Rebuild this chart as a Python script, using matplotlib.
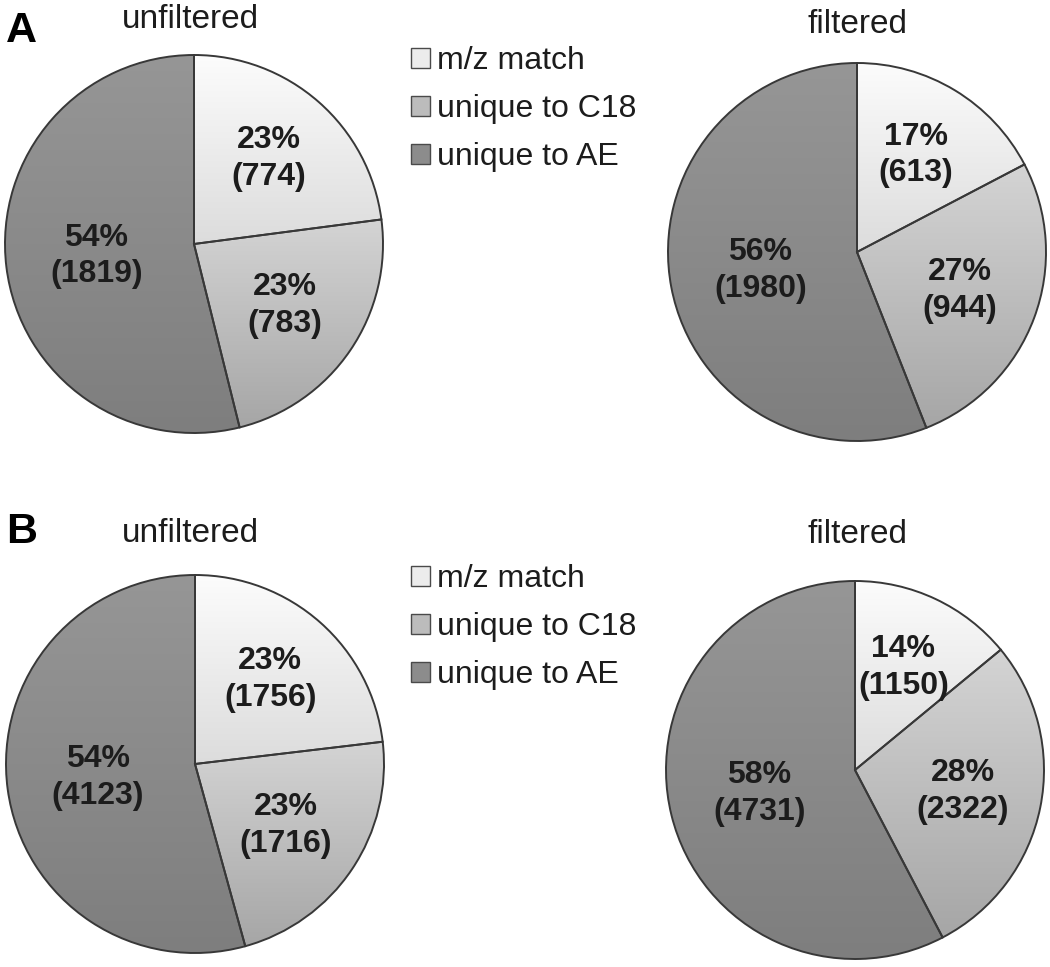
import numpy as np
import matplotlib
matplotlib.use("Agg")
import matplotlib.pyplot as plt
from matplotlib.colors import LinearSegmentedColormap
from matplotlib.patches import Patch

plt.rcParams['font.family'] = ['Liberation Sans', 'DejaVu Sans']

# data
categories = ["m/z match", "unique to C18", "unique to AE"]
a_unfiltered = [774, 783, 1819]
a_filtered = [613, 944, 1980]
b_unfiltered = [1756, 1716, 4123]
b_filtered = [1150, 2322, 4731]

W, H = 1050, 967
R = 189  # pie radius in pixels
fig = plt.figure(figsize=(W / 100, H / 100), dpi=100)

top_colors = ["#fcfcfc", "#d4d4d4", "#969696"]
bottom_colors = ["#dcdcdc", "#a6a6a6", "#7e7e7e"]
legend_colors = ["#ececec", "#bcbcbc", "#8c8c8c"]
label_r = [0.60, 0.58, 0.52]
edge = "#383838"
txt = "#1c1c1c"


def fx(x):
    return x / W


def fy(y):
    return 1 - y / H


def pie_at(cx, cy, values):
    pad = 4
    ax = fig.add_axes([fx(cx - R - pad), fy(cy + R + pad),
                       (2 * R + 2 * pad) / W, (2 * R + 2 * pad) / H])
    total = sum(values)

    def fmt(pct):
        return f"{pct:.0f}%\n({int(round(pct * total / 100))})"

    wedges, _, autotexts = ax.pie(values, startangle=90, counterclock=False,
                                  radius=1, autopct=fmt,
                                  wedgeprops=dict(edgecolor=edge, linewidth=1.4),
                                  textprops=dict(fontsize=23, fontweight='bold',
                                                 color=txt))
    for i, w in enumerate(wedges):
        w.set_facecolor('none')
        ext = w.get_path().get_extents()
        cmap = LinearSegmentedColormap.from_list(f"g{i}", [top_colors[i], bottom_colors[i]])
        grad = np.linspace(0, 1, 256).reshape(-1, 1)
        im = ax.imshow(grad, cmap=cmap, origin='upper', aspect='auto',
                       extent=(ext.x0, ext.x1, ext.y0, ext.y1), zorder=0.5,
                       interpolation='bilinear')
        im.set_clip_path(w)
        th = np.deg2rad((w.theta1 + w.theta2) / 2)
        autotexts[i].set_position((label_r[i] * np.cos(th), label_r[i] * np.sin(th)))
        autotexts[i].set_linespacing(1.3)
    lim = 1 + pad / R
    ax.set_xlim(-lim, lim)
    ax.set_ylim(-lim, lim)
    ax.axis('off')
    return ax


pie_at(194, 244, a_unfiltered)
pie_at(857, 252, a_filtered)
pie_at(195, 764, b_unfiltered)
pie_at(855, 770, b_filtered)

# titles and panel letters
fig.text(fx(190), fy(28), "unfiltered", fontsize=24, ha='center', va='baseline', color=txt)
fig.text(fx(857), fy(33), "filtered", fontsize=24, ha='center', va='baseline', color=txt)
fig.text(fx(190), fy(542), "unfiltered", fontsize=24, ha='center', va='baseline', color=txt)
fig.text(fx(857), fy(543), "filtered", fontsize=24, ha='center', va='baseline', color=txt)
fig.text(fx(6), fy(42), "A", fontsize=31, fontweight='bold', ha='left', va='baseline', color='black')
fig.text(fx(6), fy(543), "B", fontsize=31, fontweight='bold', ha='left', va='baseline', color='black')

# legends
for ytop in [46, 564]:
    handles = [Patch(facecolor=c, edgecolor="#4a4a4a", linewidth=1.0) for c in legend_colors]
    fig.legend(handles, categories, loc='upper left', bbox_to_anchor=(fx(411), fy(ytop)),
               frameon=False, fontsize=23, handlelength=0.6, handleheight=0.6,
               handletextpad=0.2, labelspacing=0.57, borderpad=0, borderaxespad=0,
               labelcolor=txt)

fig.savefig("out.png", dpi=100)
